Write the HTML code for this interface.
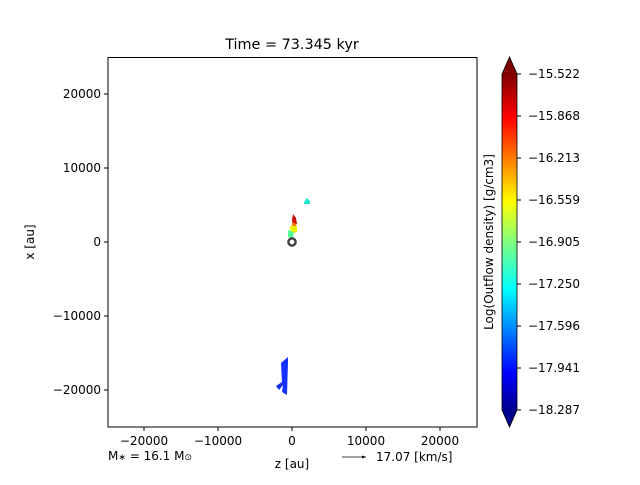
<!DOCTYPE html>
<html><head><style>
body{margin:0;background:#fff;}
svg text{font-family:"DejaVu Sans","Liberation Sans",sans-serif;font-size:12px;fill:#000;}
</style></head><body>
<svg width="640" height="480" xmlns="http://www.w3.org/2000/svg">
<defs>
<linearGradient id="jet" x1="0" y1="1" x2="0" y2="0">
<stop offset="0" stop-color="#00008f"/>
<stop offset="0.11" stop-color="#0000ff"/>
<stop offset="0.36" stop-color="#00ffff"/>
<stop offset="0.5" stop-color="#80ff80"/>
<stop offset="0.62" stop-color="#ffff00"/>
<stop offset="0.87" stop-color="#ff0000"/>
<stop offset="1" stop-color="#800000"/>
</linearGradient>
</defs>
<text x="292" y="49" text-anchor="middle" style="font-size:14.4px">Time = 73.345 kyr</text>
<polygon points="304,202 307,198 310,201 310,204 304,204" fill="#22e8d0"/>
<polygon points="293,214 296,218 297,224 293,226 292,220" fill="#cc1000"/>
<polygon points="292,222 296,224 296,229 292,230" fill="#ff8000"/>
<polygon points="290,226 297,226 297,232 291,234" fill="#e8f000"/>
<polygon points="288,230 294,232 293,238 288,237" fill="#50ff9a"/>
<polygon points="281,363 288,357 288,362 287,395 282,392 283,385 279,390 276,386 282,382" fill="#1430ff"/>
<circle cx="292" cy="242" r="3.6" fill="none" stroke="#444" stroke-width="2.5"/>
<rect x="108" y="57.5" width="369" height="369.5" fill="none" stroke="#000" stroke-width="1"/>
<g stroke="#000" stroke-width="1">
<line x1="144" y1="427" x2="144" y2="431"/><line x1="218" y1="427" x2="218" y2="431"/><line x1="292" y1="427" x2="292" y2="431"/><line x1="366" y1="427" x2="366" y2="431"/><line x1="440" y1="427" x2="440" y2="431"/>
<line x1="104" y1="94" x2="108" y2="94"/><line x1="104" y1="168" x2="108" y2="168"/><line x1="104" y1="242" x2="108" y2="242"/><line x1="104" y1="316" x2="108" y2="316"/><line x1="104" y1="390" x2="108" y2="390"/>
</g>
<g text-anchor="middle">
<text x="144" y="445">−20000</text><text x="218" y="445">−10000</text><text x="292" y="445">0</text><text x="366" y="445">10000</text><text x="440" y="445">20000</text>
</g>
<g text-anchor="end">
<text x="101" y="98">20000</text><text x="101" y="172">10000</text><text x="101" y="246">0</text><text x="101" y="320">−10000</text><text x="101" y="394">−20000</text>
</g>
<text x="292" y="468" text-anchor="middle">z [au]</text>
<text transform="translate(34,242) rotate(-90)" text-anchor="middle">x [au]</text>
<text x="108" y="460">M<tspan font-size="9">∗</tspan> = 16.1 M<tspan font-size="9">⊙</tspan></text>
<line x1="342" y1="457" x2="366" y2="457" stroke="#000" stroke-width="0.8"/>
<polygon points="366,457 362,455.5 362,458.5" fill="#000"/>
<text x="376" y="461">17.07 [km/s]</text>
<rect x="502" y="74" width="15" height="336" fill="url(#jet)"/>
<polygon points="502,74 509.5,57 517,74" fill="#800000"/>
<polygon points="502,410 509.5,427 517,410" fill="#00008f"/>
<polygon points="502,74 509.5,57 517,74 517,410 509.5,427 502,410" fill="none" stroke="#000" stroke-width="0.8"/>
<g stroke="#000"><line x1="517" y1="74" x2="521" y2="74"/><line x1="517" y1="116" x2="521" y2="116"/><line x1="517" y1="158" x2="521" y2="158"/><line x1="517" y1="200" x2="521" y2="200"/><line x1="517" y1="242" x2="521" y2="242"/><line x1="517" y1="284" x2="521" y2="284"/><line x1="517" y1="326" x2="521" y2="326"/><line x1="517" y1="368" x2="521" y2="368"/><line x1="517" y1="410" x2="521" y2="410"/></g>
<g>
<text x="528" y="78">−15.522</text><text x="528" y="120">−15.868</text><text x="528" y="162">−16.213</text><text x="528" y="204">−16.559</text><text x="528" y="246">−16.905</text><text x="528" y="288">−17.250</text><text x="528" y="330">−17.596</text><text x="528" y="372">−17.941</text><text x="528" y="414">−18.287</text>
</g>
<text transform="translate(493,242) rotate(-90)" text-anchor="middle">Log(Outflow density) [g/cm3]</text>
</svg>
</body></html>
